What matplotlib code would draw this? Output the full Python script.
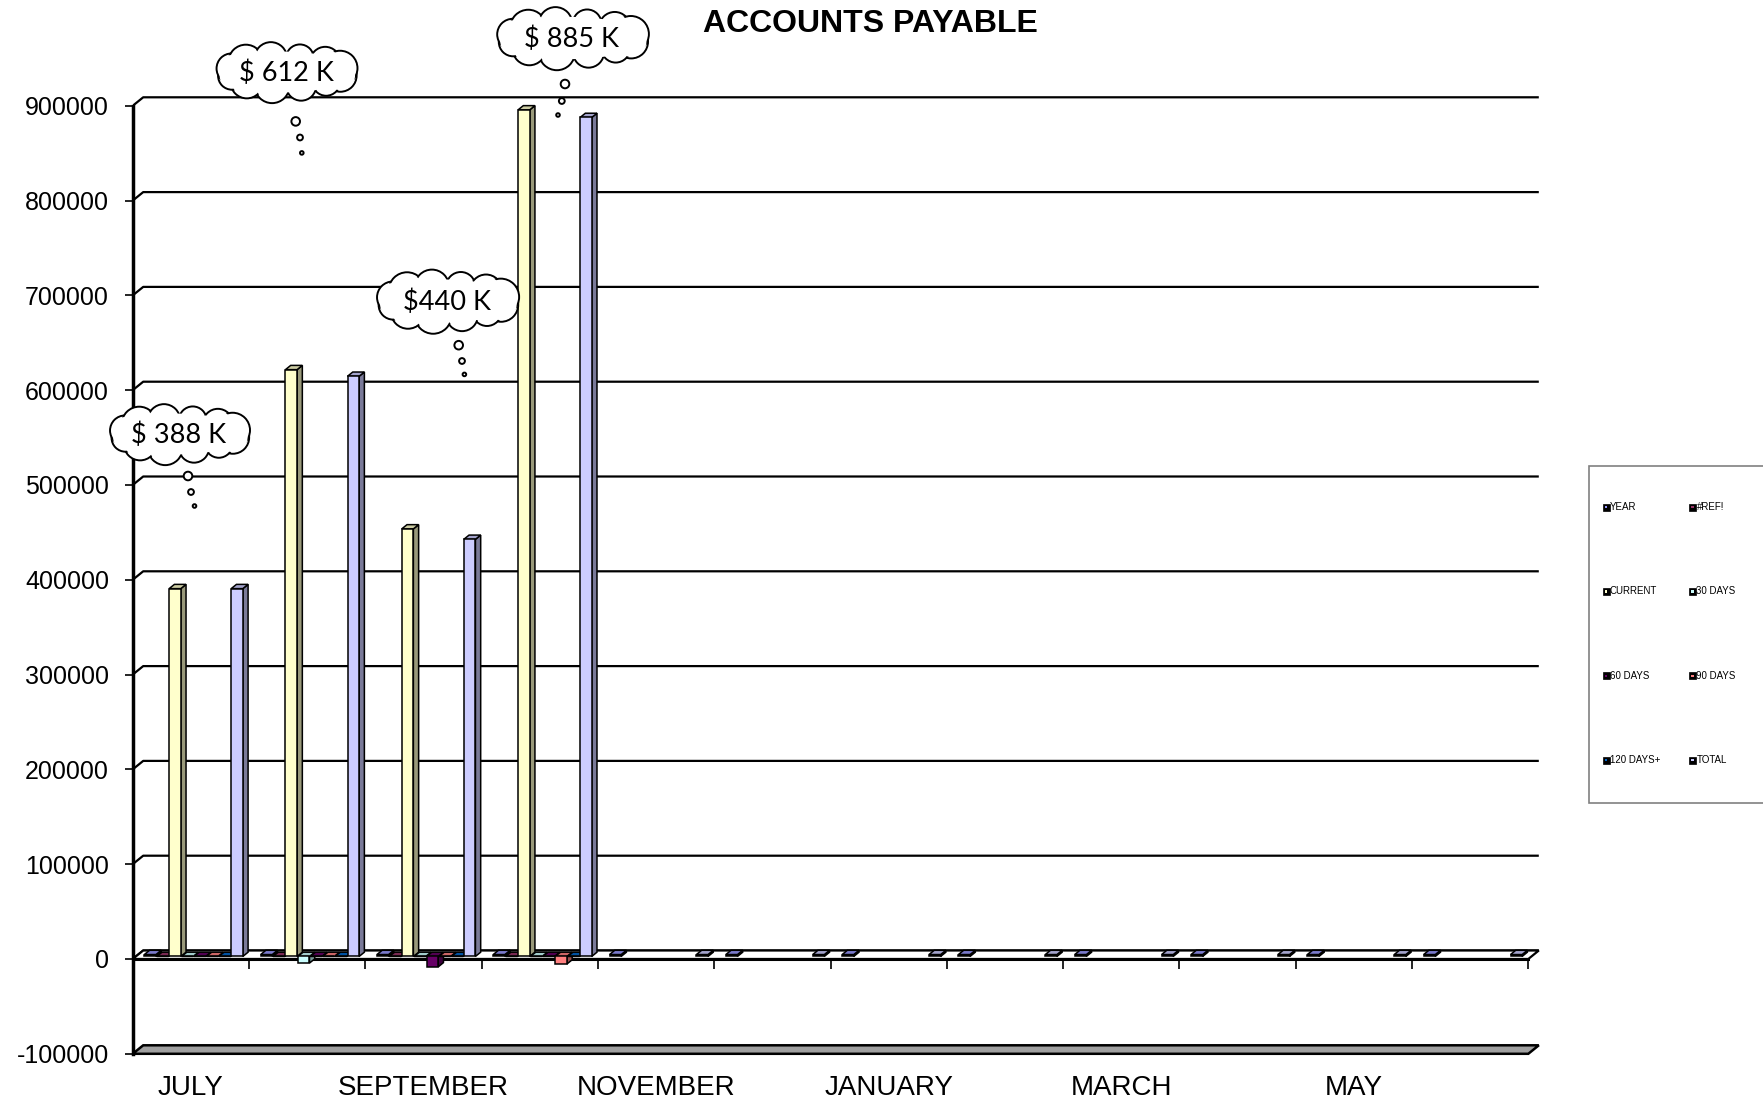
import matplotlib
matplotlib.use("Agg")
import matplotlib.pyplot as plt
import numpy as np
from matplotlib.patches import Polygon, Ellipse, Rectangle, Circle
from matplotlib.colors import to_rgb

# ---------------- data ----------------
months = ["JULY", "AUGUST", "SEPTEMBER", "OCTOBER", "NOVEMBER", "DECEMBER",
          "JANUARY", "FEBRUARY", "MARCH", "APRIL", "MAY", "JUNE"]
series_names = ["YEAR", "#REF!", "CURRENT", "30 DAYS", "60 DAYS", "90 DAYS",
                "120 DAYS+", "TOTAL"]
nan = float("nan")
year_vals = [2009, 2009, 2009, 2009, 2009, 2009, 2010, 2010, 2010, 2010, 2010, 2010]
ref_vals = [0, 0, 0, 0, nan, nan, nan, nan, nan, nan, nan, nan]
current_vals = [388000, 619000, 451000, 893000, nan, nan, nan, nan, nan, nan, nan, nan]
d30_vals = [0, -7000, 0, 0, nan, nan, nan, nan, nan, nan, nan, nan]
d60_vals = [0, 0, -11000, 0, nan, nan, nan, nan, nan, nan, nan, nan]
d90_vals = [0, 0, 0, -8000, nan, nan, nan, nan, nan, nan, nan, nan]
d120_vals = [0, 0, 0, 0, nan, nan, nan, nan, nan, nan, nan, nan]
total_vals = [388000, 612000, 440000, 885000, 2009, 2009, 2010, 2010, 2010, 2010, 2010, 2010]
series_colors = ["#9999FF", "#993366", "#FFFFCC", "#CCFFFF", "#660066", "#FF8080",
                 "#0066CC", "#CCCCFF"]
y_ticks = [-100000, 0, 100000, 200000, 300000, 400000, 500000, 600000, 700000,
           800000, 900000]
callout_labels = ["$ 388 K", "$ 612 K", "$440 K", "$ 885 K"]

all_series = [year_vals, ref_vals, current_vals, d30_vals, d60_vals, d90_vals,
              d120_vals, total_vals]

plt.rcParams["font.family"] = ["Liberation Sans", "DejaVu Sans"]

W, H = 1763, 1101
fig = plt.figure(figsize=(W / 100, H / 100), dpi=100)

# geometry (pixels of the output)
px_cat = 116.3          # px per category
px_val = 94.8 / 1e5     # px per value unit
x0_px = 132.7
y0_px = 959.0
XMAX = 12.2
YMIN, YMAX = -110000, 990000
ax_w = XMAX * px_cat
ax_h = (YMAX - YMIN) * px_val
ax_bottom_px = y0_px - YMIN * px_val
ax = fig.add_axes([x0_px / W, (H - ax_bottom_px) / H, ax_w / W, ax_h / H])
ax.set_xlim(0, XMAX)
ax.set_ylim(YMIN, YMAX)

DX = 10.5 / px_cat
DY = 8.5 / px_val
ncat = len(months)

# walls / gridlines
for t in y_ticks[1:]:
    ax.plot([0, DX, ncat + DX], [t, t + DY, t + DY], color="black", lw=1.6,
            zorder=1, solid_capstyle="butt")
floor = Polygon([(0, -100000), (ncat, -100000), (ncat + DX, -100000 + DY),
                 (DX, -100000 + DY)], closed=True, facecolor="#a0a0a0",
                edgecolor="black", lw=1.8, zorder=1)
ax.add_patch(floor)
zero_floor = Polygon([(0, 0), (ncat, 0), (ncat + DX, DY), (DX, DY)], closed=True,
                     facecolor="white", edgecolor="black", lw=1.6, zorder=1.5)
ax.add_patch(zero_floor)
ax.plot([0, ncat], [0, 0], color="black", lw=2.2, zorder=1.6)
ax.vlines(np.arange(ncat + 1), -10500, 0, color="black", lw=1.2, zorder=1.6)

# bars (pseudo 3D)
F0 = 0.3
D = 0.5
bw = 0.1
slot = 0.1067
start = 0.073
cats = np.arange(ncat)


def shade(c, f):
    r, g, b = to_rgb(c)
    return (r * f, g * f, b * f)


for s, (vals, col) in enumerate(zip(all_series, series_colors)):
    z = 3 + s * 0.01
    xs = cats + start + s * slot + F0 * DX
    base = F0 * DY
    vals = np.asarray(vals, dtype=float)
    ok = ~np.isnan(vals)
    ax.bar(xs[ok], vals[ok], width=bw, bottom=base, align="edge", color=col,
           edgecolor="black", lw=1.1, zorder=z + 0.005)
    for x, v in zip(xs[ok], vals[ok]):
        lo = base + min(0, v)
        hi = base + max(0, v)
        side = Polygon([(x + bw, lo), (x + bw, hi), (x + bw + D * DX, hi + D * DY),
                        (x + bw + D * DX, lo + D * DY)], closed=True,
                       facecolor=shade(col, 0.6), edgecolor="black", lw=1.1, zorder=z)
        top = Polygon([(x, hi), (x + bw, hi), (x + bw + D * DX, hi + D * DY),
                       (x + D * DX, hi + D * DY)], closed=True,
                      facecolor=shade(col, 0.8), edgecolor="black", lw=1.1, zorder=z)
        ax.add_patch(side)
        ax.add_patch(top)

# axes decoration
for sp in ["top", "right", "bottom"]:
    ax.spines[sp].set_visible(False)
ax.spines["left"].set_bounds(-100000, 900000)
ax.spines["left"].set_linewidth(2.5)
ax.spines["left"].set_zorder(2)
ax.set_yticks(y_ticks)
ax.set_yticklabels([str(t) for t in y_ticks])
ax.tick_params(axis="y", direction="out", length=6, width=1.2, pad=11, labelsize=18)
ax.set_xticks(cats[::2] + 0.5)
ax.set_xticklabels(months[::2], fontsize=20)
ax.tick_params(axis="x", length=0, pad=8.5)
ax.patch.set_alpha(0)

# title
fig.text(870 / W, 1 - 23.5 / H, "ACCOUNTS PAYABLE", ha="center", va="center",
         fontsize=23, fontweight="bold")

# overlay in pixel coordinates for callouts and legend
ov = fig.add_axes([0, 0, 1, 1])
ov.set_xlim(0, W)
ov.set_ylim(H, 0)
ov.axis("off")
ov.patch.set_alpha(0)


def cloud(cx, cy, w, h, text, trail):
    r = h * 0.27
    a = w / 2 - r * 0.95
    b = h / 2 - r * 0.95
    n = 12
    ts = np.linspace(0, 2 * np.pi, n, endpoint=False) + 0.25
    rs = r * (1 + 0.12 * np.cos(3 * ts + 0.5))
    for t, rr in zip(ts, rs):
        ov.add_patch(Circle((cx + a * np.cos(t), cy + b * np.sin(t)), rr,
                            facecolor="white", edgecolor="black", lw=1.4, zorder=10))
    for t, rr in zip(ts, rs):
        ov.add_patch(Circle((cx + a * np.cos(t), cy + b * np.sin(t)), rr - 1.6,
                            facecolor="white", edgecolor="none", zorder=11))
    ov.add_patch(Ellipse((cx, cy), 2 * a + r, 2 * b + r * 0.8, facecolor="white",
                         edgecolor="none", zorder=11))
    ov.text(cx, cy + 1, text, ha="center", va="center", fontsize=19.5,
            family=["Lato", "DejaVu Sans"], zorder=12)
    for (tx, ty, tr) in trail:
        ov.add_patch(Circle((tx, ty), tr, facecolor="white", edgecolor="black",
                            lw=1.4, zorder=10))


cloud_geom = [
    (179, 434, 141, 58, [(188, 476, 4.3), (191, 492, 2.9), (194.5, 506, 1.8)]),
    (286, 72, 142, 58, [(295.7, 121.4, 4.3), (300, 137.5, 2.9), (301.8, 152.9, 1.8)]),
    (447, 301, 143, 61, [(458.7, 345.2, 4.3), (462, 361, 2.9), (464.4, 374.4, 1.8)]),
    (572, 38, 153, 60, [(565, 84, 4.3), (561.8, 101, 2.9), (558, 115, 1.8)]),
]
for lab, (cx, cy, w, h, tr) in zip(callout_labels, cloud_geom):
    cloud(cx, cy, w, h, lab, tr)

# legend
ov.add_patch(Rectangle((1589, 466), 200, 337, facecolor="white",
                       edgecolor="#808080", lw=1.2, zorder=5))
col_x = [1606, 1692.5]
row_y = [507, 591.4, 675.8, 760]
for k, (name, col) in enumerate(zip(series_names, series_colors)):
    x = col_x[k % 2]
    y = row_y[k // 2]
    ov.add_patch(Rectangle((x - 3.5, y - 3.5), 7, 7, facecolor="black",
                           edgecolor="black", lw=0.5, zorder=6))
    ov.add_patch(Rectangle((x - 1.3, y - 1.3), 2.6, 2.6, facecolor=col,
                           edgecolor="none", zorder=7))
    ov.text(x + 4, y, name, ha="left", va="center", fontsize=7, zorder=7)

fig.savefig("out.png", dpi=100)
